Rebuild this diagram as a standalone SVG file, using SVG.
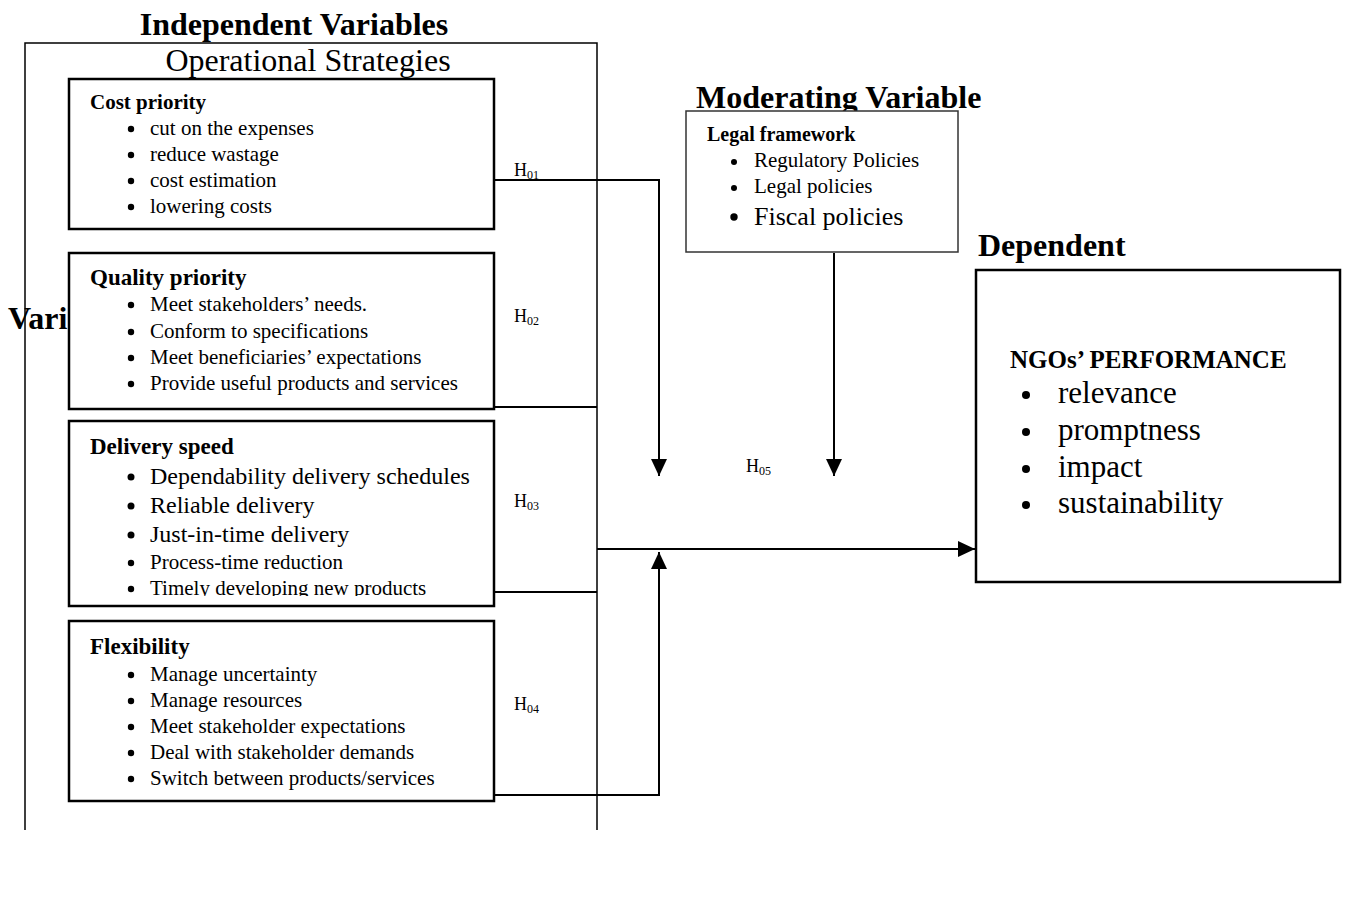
<svg xmlns="http://www.w3.org/2000/svg" width="1346" height="897" viewBox="0 0 1346 897">
<style>
text{font-family:"Liberation Serif","Times New Roman",serif;fill:#000}
.b{font-weight:bold}
.box{fill:#fff;stroke:#000;stroke-width:2.5}
.mbox{fill:#fff;stroke:#333;stroke-width:1.5}
.frame{fill:none;stroke:#000;stroke-width:1.5}
.con{fill:none;stroke:#000;stroke-width:2}
.i21{font-size:21px}
.i24{font-size:24px}
.dot{fill:#000}
.h{font-size:18px}
.h tspan{font-size:12px}
</style>
<defs>
<marker id="ah" viewBox="0 0 17 16" refX="17" refY="8" markerWidth="17" markerHeight="16" markerUnits="userSpaceOnUse" orient="auto"><path d="M0,0 L17,8 L0,16 z" fill="#000"/></marker>
<clipPath id="dclip"><rect x="69" y="421" width="425" height="175"/></clipPath>
</defs>
<rect width="1346" height="897" fill="#fff"/>

<g id="titles">
<text class="b" x="294" y="35" font-size="32" text-anchor="middle">Independent Variables</text>
<text x="8" y="329" class="b" font-size="32">Vari</text>
</g>

<g id="frame">
<path class="frame" d="M25,830 V43 H597 V830"/>
<text x="308" y="71" font-size="32" text-anchor="middle">Operational Strategies</text>
</g>

<g id="connectors">
<path class="con" d="M494,180 H659 V476" marker-end="url(#ah)"/>
<path class="con" d="M494,407 H597"/>
<path class="con" d="M494,592 H597"/>
<path class="con" d="M597,549 H975" marker-end="url(#ah)"/>
<path class="con" d="M494,795 H659 V552" marker-end="url(#ah)"/>
<path class="con" d="M834,253 V476" marker-end="url(#ah)"/>
<text class="h" x="514" y="176">H<tspan dy="3">01</tspan></text>
<text class="h" x="514" y="322">H<tspan dy="3">02</tspan></text>
<text class="h" x="514" y="507">H<tspan dy="3">03</tspan></text>
<text class="h" x="514" y="710">H<tspan dy="3">04</tspan></text>
<text class="h" x="746" y="472">H<tspan dy="3">05</tspan></text>
</g>

<g id="cost">
<rect class="box" x="69" y="79" width="425" height="150"/>
<text class="b" x="90" y="109" font-size="21">Cost priority</text>
<g class="i21">
<circle class="dot" cx="131" cy="129" r="3.2"/><text x="150" y="135">cut on the expenses</text>
<circle class="dot" cx="131" cy="155" r="3.2"/><text x="150" y="161">reduce wastage</text>
<circle class="dot" cx="131" cy="181" r="3.2"/><text x="150" y="187">cost estimation</text>
<circle class="dot" cx="131" cy="207" r="3.2"/><text x="150" y="213">lowering costs</text>
</g>
</g>

<g id="quality">
<rect class="box" x="69" y="253" width="425" height="156"/>
<text class="b" x="90" y="285" font-size="23">Quality priority</text>
<g class="i21">
<circle class="dot" cx="131" cy="305" r="3.2"/><text x="150" y="311">Meet stakeholders’ needs.</text>
<circle class="dot" cx="131" cy="332" r="3.2"/><text x="150" y="338">Conform to specifications</text>
<circle class="dot" cx="131" cy="358" r="3.2"/><text x="150" y="364">Meet beneficiaries’ expectations</text>
<circle class="dot" cx="131" cy="384" r="3.2"/><text x="150" y="390">Provide useful products and services</text>
</g>
</g>

<g id="delivery">
<rect class="box" x="69" y="421" width="425" height="185"/>
<text class="b" x="90" y="454" font-size="23">Delivery speed</text>
<g clip-path="url(#dclip)">
<g class="i24">
<circle class="dot" cx="131" cy="477" r="3.5"/><text x="150" y="484">Dependability delivery schedules</text>
<circle class="dot" cx="131" cy="506" r="3.5"/><text x="150" y="513">Reliable delivery</text>
<circle class="dot" cx="131" cy="535" r="3.5"/><text x="150" y="542">Just-in-time delivery</text>
</g>
<g class="i21">
<circle class="dot" cx="131" cy="563" r="3.2"/><text x="150" y="569">Process-time reduction</text>
<circle class="dot" cx="131" cy="589" r="3.2"/><text x="150" y="595">Timely developing new products</text>
</g>
</g>
</g>

<g id="flexibility">
<rect class="box" x="69" y="621" width="425" height="180"/>
<text class="b" x="90" y="654" font-size="23">Flexibility</text>
<g class="i21">
<circle class="dot" cx="131" cy="675" r="3.2"/><text x="150" y="681">Manage uncertainty</text>
<circle class="dot" cx="131" cy="701" r="3.2"/><text x="150" y="707">Manage resources</text>
<circle class="dot" cx="131" cy="727" r="3.2"/><text x="150" y="733">Meet stakeholder expectations</text>
<circle class="dot" cx="131" cy="753" r="3.2"/><text x="150" y="759">Deal with stakeholder demands</text>
<circle class="dot" cx="131" cy="779" r="3.2"/><text x="150" y="785">Switch between products/services</text>
</g>
</g>

<g id="moderating">
<text class="b" x="696" y="108" font-size="32">Moderating Variable</text>
<rect class="mbox" x="686" y="111" width="272" height="141"/>
<text class="b" x="707" y="141" font-size="20">Legal framework</text>
<g class="i21">
<circle class="dot" cx="734" cy="162" r="3"/><text x="754" y="167">Regulatory Policies</text>
<circle class="dot" cx="734" cy="188" r="3"/><text x="754" y="193">Legal policies</text>
</g>
<circle class="dot" cx="734" cy="217" r="3.7"/><text x="754" y="225" font-size="26">Fiscal policies</text>
</g>

<g id="dependent">
<text class="b" x="978" y="256" font-size="32">Dependent</text>
<rect class="box" x="976" y="270" width="364" height="312"/>
<text class="b" x="1010" y="368" font-size="25">NGOs’ PERFORMANCE</text>
<g font-size="31">
<circle class="dot" cx="1026" cy="395" r="4"/><text x="1058" y="403">relevance</text>
<circle class="dot" cx="1026" cy="432" r="4"/><text x="1058" y="440">promptness</text>
<circle class="dot" cx="1026" cy="469" r="4"/><text x="1058" y="477">impact</text>
<circle class="dot" cx="1026" cy="505" r="4"/><text x="1058" y="513">sustainability</text>
</g>
</g>
</svg>
